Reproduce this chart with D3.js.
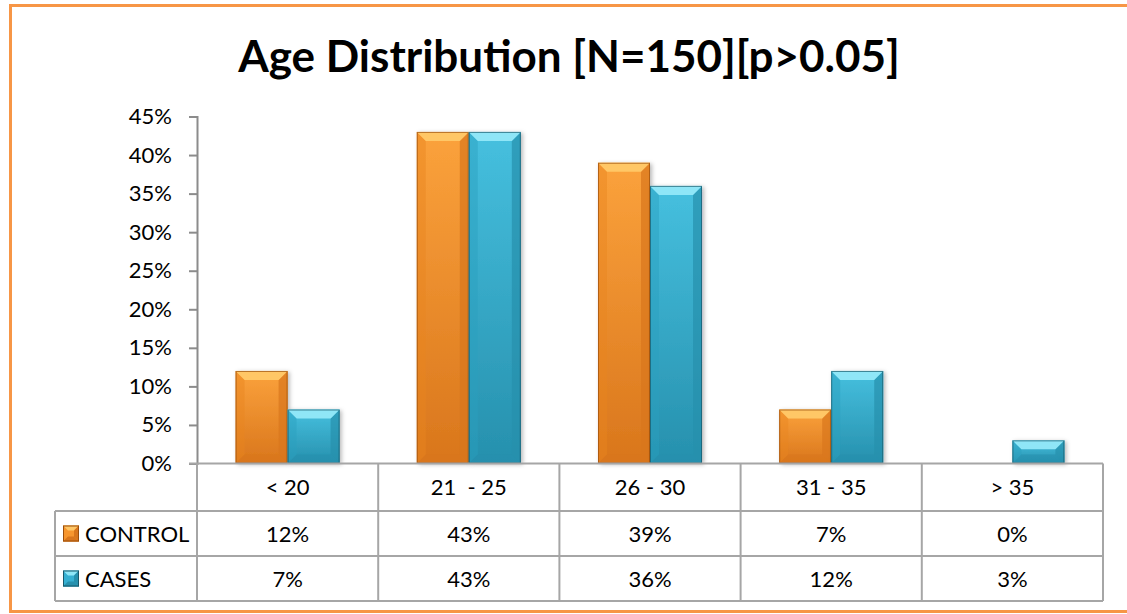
<!DOCTYPE html>
<html>
<head>
<meta charset="utf-8">
<script src="https://cdn.jsdelivr.net/npm/d3@7/dist/d3.min.js"></script>
<style>
  html, body { margin: 0; padding: 0; background: #fff; }
  svg { display: block; }
  text { font-family: Lato, "Open Sans", sans-serif; fill: #000; }
</style>
</head>
<body>
<svg id="chart" width="1127" height="614"></svg>
<script>
// Age groups and the share of each group per study arm
const categories = ["< 20", "21  - 25", "26 - 30", "31 - 35", "> 35"];
const seriesNames = ["CONTROL", "CASES"];
const controlValues = [0.12, 0.43, 0.39, 0.07, 0.00];
const casesValues = [0.07, 0.43, 0.36, 0.12, 0.03];
const yTicks = [0, 0.05, 0.10, 0.15, 0.20, 0.25, 0.30, 0.35, 0.40, 0.45];
const titleText = "Age Distribution [N=150][p>0.05]";

const seriesValues = [controlValues, casesValues];

const svg = d3.select("#chart");
const W = 1127, H = 614;

// Palette for the two arms: body, light top bevel, dark edge
const palette = [
  { top: "#ffc766", light: "#fba23c", mid: "#f7962e", dark: "#d9761c", edge: "#9a4e0c", side: "#e9861f" },
  { top: "#8fe6f7", light: "#46c0df", mid: "#36b0d2", dark: "#2690ad", edge: "#18586a", side: "#2b9fbf" }
];

const defs = svg.append("defs");
palette.forEach((p, i) => {
  const g = defs.append("linearGradient").attr("id", "body" + i)
    .attr("x1", 0).attr("y1", 0).attr("x2", 0).attr("y2", 1);
  g.append("stop").attr("offset", "0%").attr("stop-color", p.light);
  g.append("stop").attr("offset", "100%").attr("stop-color", p.dark);
});
const shadow = defs.append("filter").attr("id", "shadow")
  .attr("x", "-20%").attr("y", "-20%").attr("width", "140%").attr("height", "140%");
shadow.append("feDropShadow").attr("dx", 2).attr("dy", 1)
  .attr("stdDeviation", 2).attr("flood-color", "#000").attr("flood-opacity", 0.28);

// Outer frame
svg.append("rect")
  .attr("x", 10.5).attr("y", 5.5).attr("width", W + 20).attr("height", 606)
  .attr("fill", "#fff").attr("stroke", "#f79646").attr("stroke-width", 3);

// Title
svg.append("text")
  .attr("x", 569).attr("y", 72)
  .attr("text-anchor", "middle")
  .attr("font-size", 44).attr("font-weight", 700)
  .text(titleText);

// Plot geometry
const plotLeft = 197, plotRight = 1103, plotTop = 116.5, plotBottom = 463.5;
const rowH = 45;
const headerBottom = 511, row1Bottom = 556, row2Bottom = 601;
const legendLeft = 55;

const x0 = d3.scaleBand().domain(categories).range([plotLeft, plotRight]).padding(0);
const x1 = d3.scaleBand().domain(seriesNames).range([0, x0.bandwidth()])
  .paddingInner(0).paddingOuter(0.742);
const y = d3.scaleLinear().domain([0, 0.45]).range([plotBottom, plotTop]);

const textSize = 22;

// Y axis
const yAxis = d3.axisLeft(y).tickValues(yTicks).tickFormat(d3.format(".0%"))
  .tickSize(8).tickPadding(17);
const ya = svg.append("g").attr("transform", `translate(${plotLeft},0)`).call(yAxis);
ya.select(".domain").attr("stroke", "#8c8c8c").attr("stroke-width", 2);
ya.selectAll(".tick line").attr("stroke", "#8c8c8c").attr("stroke-width", 2);
ya.selectAll(".tick text").attr("font-size", textSize).attr("font-family", "Lato, sans-serif").attr("fill", "#000");

// Bars with bevelled faces
const bars = svg.append("g");
categories.forEach((c, ci) => {
  seriesNames.forEach((s, si) => {
    const v = seriesValues[si][ci];
    if (v <= 0) return;
    const p = palette[si];
    const bx = x0(c) + x1(s), bw = x1.bandwidth();
    const yt = y(v), yb = y(0), bh = yb - yt;
    const b = Math.min(9, bh / 2, bw / 2);
    const g = bars.append("g");
    g.append("rect").attr("x", bx).attr("y", yt).attr("width", bw).attr("height", bh)
      .attr("fill", `url(#body${si})`).attr("filter", "url(#shadow)");
    // left face
    g.append("polygon")
      .attr("points", [[bx, yt], [bx + b, yt + b], [bx + b, yb - b], [bx, yb]].join(" "))
      .attr("fill", p.side).attr("opacity", 0.45);
    // right face
    g.append("polygon")
      .attr("points", [[bx + bw, yt], [bx + bw - b, yt + b], [bx + bw - b, yb - b], [bx + bw, yb]].join(" "))
      .attr("fill", p.dark).attr("opacity", 0.7);
    // bottom face
    g.append("polygon")
      .attr("points", [[bx, yb], [bx + b, yb - b], [bx + bw - b, yb - b], [bx + bw, yb]].join(" "))
      .attr("fill", p.dark).attr("opacity", 0.6);
    // top face
    g.append("polygon")
      .attr("points", [[bx, yt], [bx + bw, yt], [bx + bw - b, yt + b], [bx + b, yt + b]].join(" "))
      .attr("fill", p.top);
    g.append("rect").attr("x", bx + 0.5).attr("y", yt + 0.5).attr("width", bw - 1).attr("height", bh - 1)
      .attr("fill", "none").attr("stroke", p.edge).attr("stroke-width", 1).attr("opacity", 0.7);
  });
});

// Data table below the axis
const lineColor = "#a6a6a6";
const table = svg.append("g").attr("stroke", lineColor).attr("stroke-width", 2).attr("fill", "none");
table.append("line").attr("x1", plotLeft - 8).attr("x2", plotRight).attr("y1", plotBottom).attr("y2", plotBottom);
[headerBottom, row1Bottom, row2Bottom].forEach(yy => {
  table.append("line").attr("x1", legendLeft).attr("x2", plotRight).attr("y1", yy).attr("y2", yy);
});
table.append("line").attr("x1", legendLeft).attr("x2", legendLeft).attr("y1", headerBottom).attr("y2", row2Bottom);
table.append("line").attr("x1", plotLeft).attr("x2", plotLeft).attr("y1", plotBottom).attr("y2", row2Bottom);
categories.forEach(c => {
  const xr = x0(c) + x0.bandwidth();
  table.append("line").attr("x1", xr).attr("x2", xr).attr("y1", plotBottom).attr("y2", row2Bottom);
});

svg.append("g").selectAll("text").data(categories).join("text")
  .attr("x", d => x0(d) + x0.bandwidth() / 2)
  .attr("y", (plotBottom + headerBottom) / 2 + 8)
  .attr("text-anchor", "middle").attr("font-size", textSize)
  .style("white-space", "pre")
  .text(d => d);

const rowBottoms = [row1Bottom, row2Bottom];
seriesNames.forEach((s, si) => {
  const cy = rowBottoms[si] - rowH / 2;
  svg.append("g").selectAll("text").data(seriesValues[si]).join("text")
    .attr("x", (d, i) => x0(categories[i]) + x0.bandwidth() / 2)
    .attr("y", cy + 8)
    .attr("text-anchor", "middle").attr("font-size", textSize)
    .text(d => d3.format(".0%")(d));
  // legend key
  const p = palette[si];
  const kx = 63, ky = cy - 8, ks = 16, kb = 5;
  const kg = svg.append("g");
  kg.append("rect").attr("x", kx).attr("y", ky).attr("width", ks).attr("height", ks).attr("fill", p.mid);
  kg.append("polygon").attr("points", [[kx, ky], [kx + ks, ky], [kx + ks - kb, ky + kb], [kx + kb, ky + kb]].join(" "))
    .attr("fill", p.top);
  kg.append("polygon").attr("points", [[kx + ks, ky], [kx + ks - kb, ky + kb], [kx + ks - kb, ky + ks - kb], [kx + ks, ky + ks]].join(" "))
    .attr("fill", p.dark);
  kg.append("polygon").attr("points", [[kx, ky + ks], [kx + kb, ky + ks - kb], [kx + ks - kb, ky + ks - kb], [kx + ks, ky + ks]].join(" "))
    .attr("fill", p.dark);
  kg.append("rect").attr("x", kx + 0.5).attr("y", ky + 0.5).attr("width", ks - 1).attr("height", ks - 1)
    .attr("fill", "none").attr("stroke", p.edge).attr("stroke-width", 1);
  svg.append("text").attr("x", 85).attr("y", cy + 8).attr("font-size", textSize).text(s);
});
</script>
</body>
</html>
